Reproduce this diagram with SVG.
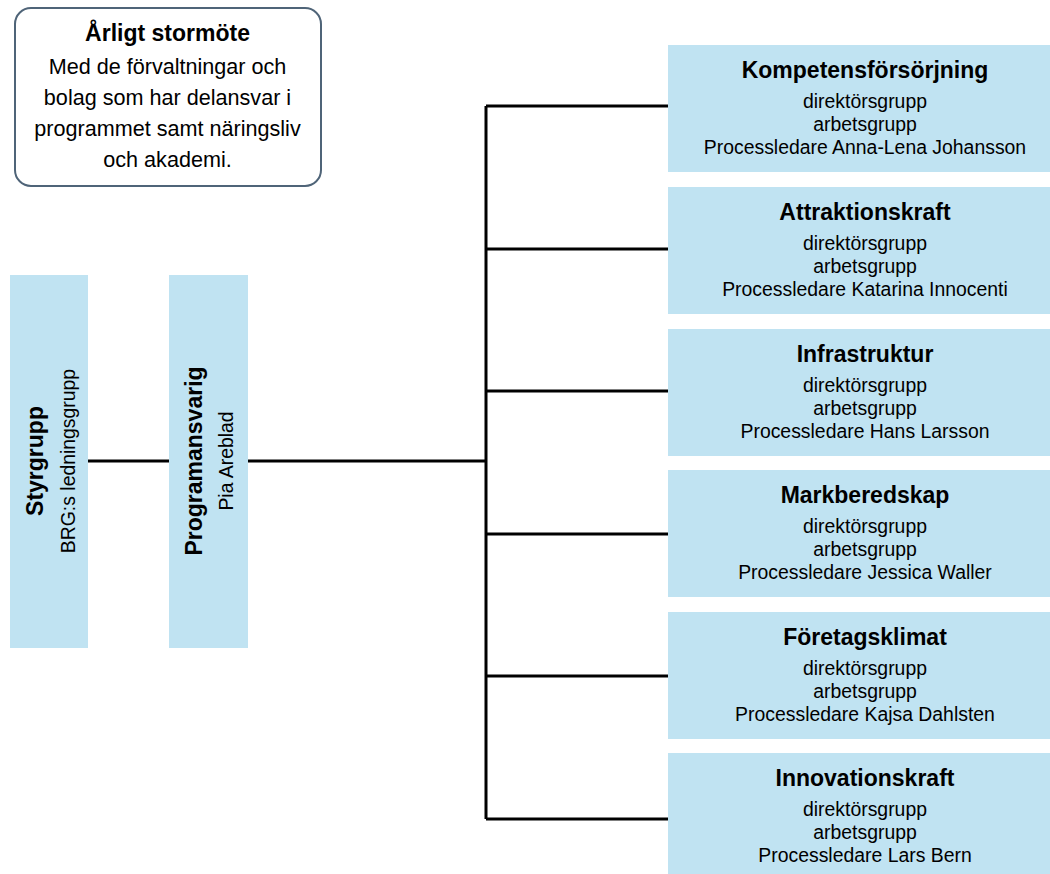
<svg xmlns="http://www.w3.org/2000/svg" width="1050" height="874" viewBox="0 0 1050 874">
<style>
.box{fill:#c0e3f2;stroke:none}
.t{font-family:"Liberation Sans",Arial,sans-serif;font-weight:bold;font-size:23px;fill:#000;text-anchor:middle}
.b{font-family:"Liberation Sans",Arial,sans-serif;font-size:19.4px;fill:#000;text-anchor:middle}
.tb{font-size:21.6px}
.c{stroke:#000;stroke-width:3;fill:none}
</style>
<rect width="1050" height="874" fill="#fff"/>
<g id="connectors">
<path class="c" d="M88 461H169M248 461H486M486 106V819M486 106H668M486 249H668M486 391H668M486 534H668M486 676H668M486 819H668"/>
</g>
<g id="stormote">
<rect x="15" y="8" width="306" height="178" rx="16" fill="#fff" stroke="#4f6478" stroke-width="2"/>
<text class="t" x="167.5" y="41">Årligt stormöte</text>
<text class="b tb" x="167.5" y="74">Med de förvaltningar och</text>
<text class="b tb" x="167.5" y="105">bolag som har delansvar i</text>
<text class="b tb" x="167.5" y="136">programmet samt näringsliv</text>
<text class="b tb" x="167.5" y="167">och akademi.</text>
</g>
<g id="styrgrupp">
<rect class="box" x="10" y="275" width="78" height="373"/>
<text class="t" transform="translate(43,461) rotate(-90)">Styrgrupp</text>
<text class="b" transform="translate(75,461) rotate(-90)">BRG:s ledningsgrupp</text>
</g>
<g id="programansvarig">
<rect class="box" x="169" y="275" width="79" height="373"/>
<text class="t" transform="translate(202,461) rotate(-90)">Programansvarig</text>
<text class="b" transform="translate(233,461) rotate(-90)">Pia Areblad</text>
</g>
<g id="kompetens">
<rect class="box" x="668" y="45" width="420" height="127"/>
<text class="t" x="865" y="78">Kompetensförsörjning</text>
<text class="b" x="865" y="108">direktörsgrupp</text>
<text class="b" x="865" y="131">arbetsgrupp</text>
<text class="b" x="865" y="154">Processledare Anna-Lena Johansson</text>
</g>
<g id="attraktion">
<rect class="box" x="668" y="187" width="420" height="127"/>
<text class="t" x="865" y="220">Attraktionskraft</text>
<text class="b" x="865" y="250">direktörsgrupp</text>
<text class="b" x="865" y="273">arbetsgrupp</text>
<text class="b" x="865" y="296">Processledare Katarina Innocenti</text>
</g>
<g id="infrastruktur">
<rect class="box" x="668" y="329" width="420" height="127"/>
<text class="t" x="865" y="362">Infrastruktur</text>
<text class="b" x="865" y="392">direktörsgrupp</text>
<text class="b" x="865" y="415">arbetsgrupp</text>
<text class="b" x="865" y="438">Processledare Hans Larsson</text>
</g>
<g id="markberedskap">
<rect class="box" x="668" y="470" width="420" height="127"/>
<text class="t" x="865" y="503">Markberedskap</text>
<text class="b" x="865" y="533">direktörsgrupp</text>
<text class="b" x="865" y="556">arbetsgrupp</text>
<text class="b" x="865" y="579">Processledare Jessica Waller</text>
</g>
<g id="foretagsklimat">
<rect class="box" x="668" y="612" width="420" height="127"/>
<text class="t" x="865" y="645">Företagsklimat</text>
<text class="b" x="865" y="675">direktörsgrupp</text>
<text class="b" x="865" y="698">arbetsgrupp</text>
<text class="b" x="865" y="721">Processledare Kajsa Dahlsten</text>
</g>
<g id="innovation">
<rect class="box" x="668" y="753" width="420" height="127"/>
<text class="t" x="865" y="786">Innovationskraft</text>
<text class="b" x="865" y="816">direktörsgrupp</text>
<text class="b" x="865" y="839">arbetsgrupp</text>
<text class="b" x="865" y="862">Processledare Lars Bern</text>
</g>
</svg>
